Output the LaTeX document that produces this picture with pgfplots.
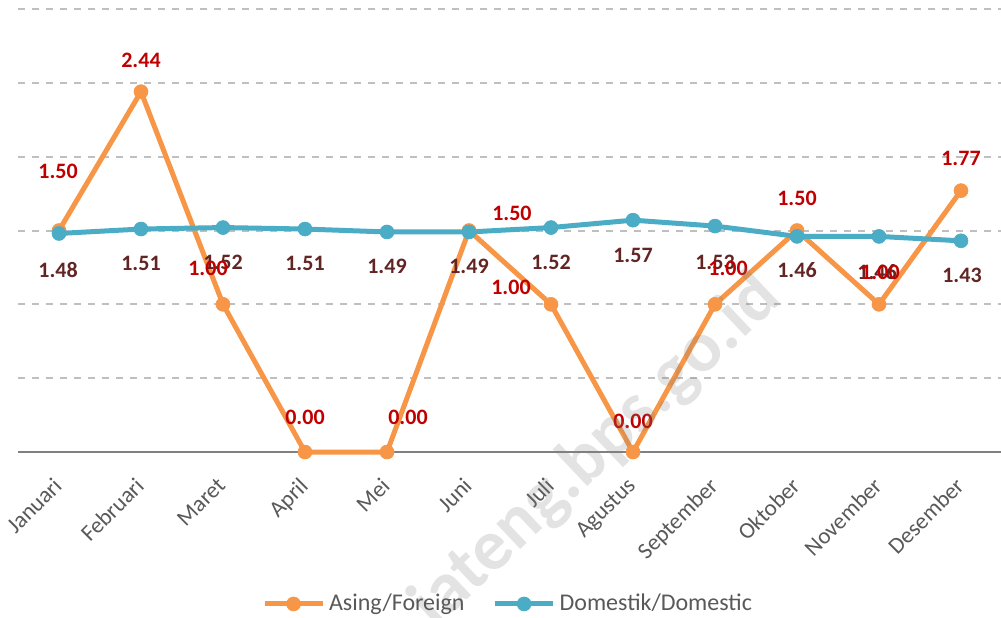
\documentclass[border=0pt]{standalone}
\usepackage{pgfplots}
\pgfplotsset{compat=1.18}
\usepackage{fontspec}
\setmainfont{Carlito}
\definecolor{forg}{HTML}{F79646}
\definecolor{dom}{HTML}{4BACC6}
\definecolor{flab}{HTML}{C00000}
\definecolor{dlab}{HTML}{632523}
\definecolor{tickc}{HTML}{595959}
\definecolor{gridc}{HTML}{BFBFBF}
\begin{document}
\begin{tikzpicture}
\useasboundingbox (-9pt,-82.5pt) rectangle (491.5pt,226pt);
\begin{axis}[
  scale only axis, width=492pt, height=221.5pt,
  xmin=-0.5, xmax=11.5, ymin=0, ymax=3,
  clip=false,
  axis x line*=bottom, axis y line*=left,
  x axis line style={-, draw=gray, line width=1pt},
  y axis line style={draw=none},
  xtick={0,1,2,3,4,5,6,7,8,9,10,11},
  xticklabels={Januari,Februari,Maret,April,Mei,Juni,Juli,Agustus,September,Oktober,November,Desember},
  xtick style={draw=none},
  xticklabel style={xshift=-3.5pt, yshift=-10.5pt, rotate=45, anchor=north east, inner sep=1pt, font=\fontsize{11.5}{13}\selectfont, text=tickc},
  ytick={0.5,1,1.5,2,2.5,3}, yticklabels={}, ytick style={draw=none},
  ymajorgrids, major grid style={draw=gridc, line width=1pt, dash pattern=on 3.5pt off 3.5pt},
  legend columns=2,
  legend style={at={(0.499,-0.343)}, anchor=center, draw=none, fill=none,
    font=\fontsize{12}{14}\selectfont, text=tickc,
    /tikz/every even column/.append style={column sep=12pt}},
  legend image code/.code={\draw[#1, mark=none] (0pt,0pt) -- (29pt,0pt); \draw[#1, only marks] plot coordinates {(14.5pt,0pt)};},
]
\addplot[color=forg, line width=2.5pt, mark=*, mark size=3.5pt, mark options={solid, fill=forg, draw=forg, line width=0.3pt}]
  coordinates {(0,1.50) (1,2.44) (2,1.00) (3,0.00) (4,0.00) (5,1.50) (6,1.00) (7,0.00) (8,1.00) (9,1.50) (10,1.00) (11,1.77)};
\addlegendentry{Asing/Foreign}
\addplot[color=dom, line width=2.5pt, mark=*, mark size=3.5pt, mark options={solid, fill=dom, draw=dom, line width=0.3pt}]
  coordinates {(0,1.48) (1,1.51) (2,1.52) (3,1.51) (4,1.49) (5,1.49) (6,1.52) (7,1.57) (8,1.53) (9,1.46) (10,1.46) (11,1.43)};
\addlegendentry{Domestik/Domestic}
% domestic labels
\begin{scope}[every node/.style={font=\bfseries\fontsize{11}{13}\selectfont, text=dlab, inner sep=0pt}]
\node at (axis cs:-0.012,1.232) {1.48};
\node at (axis cs:1,1.280) {1.51};
\node at (axis cs:2,1.286) {1.52};
\node at (axis cs:3,1.280) {1.51};
\node at (axis cs:4,1.259) {1.49};
\node at (axis cs:5,1.259) {1.49};
\node at (axis cs:6,1.286) {1.52};
\node at (axis cs:7,1.334) {1.57};
\node at (axis cs:8,1.286) {1.53};
\node at (axis cs:9,1.232) {1.46};
\node at (axis cs:9.976,1.219) {1.46};
\node at (axis cs:11.012,1.198) {1.43};
\end{scope}
% foreign labels
\begin{scope}[every node/.style={font=\bfseries\fontsize{11}{13}\selectfont, text=flab, inner sep=0pt}]
\node at (axis cs:-0.012,1.902) {1.50};
\node at (axis cs:1,2.654) {2.44};
\node at (axis cs:1.817,1.246) {1.00};
\node at (axis cs:3,0.237) {0.00};
\node at (axis cs:4.256,0.237) {0.00};
\node at (axis cs:5.524,1.618) {1.50};
\node at (axis cs:5.512,1.117) {1.00};
\node at (axis cs:7,0.210) {0.00};
\node at (axis cs:8.159,1.246) {1.00};
\node at (axis cs:9,1.720) {1.50};
\node at (axis cs:10.012,1.219) {1.00};
\node at (axis cs:11,1.990) {1.77};
\end{scope}
\node[rotate=43.4, font=\bfseries\fontsize{36}{40}\selectfont, text=gray, opacity=0.22] at (axis cs:6.55,0.0) {jateng.bps.go.id};
\end{axis}
\end{tikzpicture}
\end{document}
